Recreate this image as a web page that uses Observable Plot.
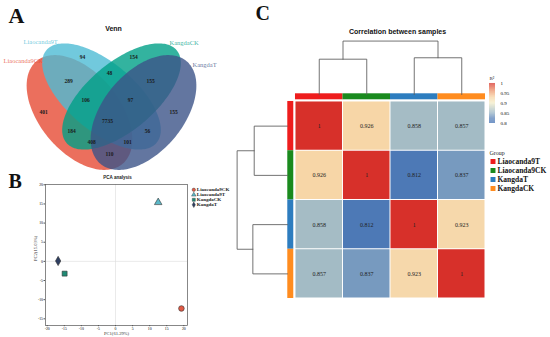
<!DOCTYPE html>
<html><head><meta charset="utf-8">
<script src="https://cdn.jsdelivr.net/npm/d3@7"></script>
<script src="https://cdn.jsdelivr.net/npm/@observablehq/plot@0.6"></script>
<style>
body{margin:0;background:#fff;}
#fig{position:relative;width:550px;height:337px;overflow:hidden;background:#fff;}
#fig svg{overflow:visible;}
</style></head><body><div id="fig"></div>
<script>
// ---------- DATA ----------
// Panel A: Venn
const vennSets = ["Liaocanda9CK", "Liaocanda9T", "KangdaCK", "KangdaT"];
const vennColors = ["#E64B35", "#4DBBD5", "#00A087", "#3C5488"];
const vennCounts = [401, 94, 154, 155, 289, 48, 155, 110, 106, 97, 184, 56, 408, 101, 7735];
// Panel B: PCA
const pcaSamples = ["Liaocanda9CK", "Liaocanda9T", "KangdaCK", "KangdaT"];
const pc1 = [19.3, 12.5, -14.9, -16.8];
const pc2 = [-12.3, 15.4, -3.2, 0.1];
const pcaColors = ["#E05A45", "#5BB8C8", "#1F8A74", "#2E3F62"];
const pcaSymbols = ["circle", "triangle", "square", "diamond"];
const pcaTicksX = [-20, -15, -10, -5, 0, 5, 10, 15, 20];
const pcaTicksY = [-15, -10, -5, 0, 5, 10, 15, 20];
// Panel C: correlation heatmap
const samples = ["Liaocanda9T", "Liaocanda9CK", "KangdaT", "KangdaCK"];
const corr = [
  [1, 0.926, 0.858, 0.857],
  [0.926, 1, 0.812, 0.837],
  [0.858, 0.812, 1, 0.923],
  [0.857, 0.837, 0.923, 1]
];
const groupColors = ["#EE1D1D", "#1A8A1E", "#2D7DBF", "#FF8C1F"];
const merge = [[-1, -2], [-3, -4], [1, 2]];   // hclust-style merges
const mergeHeight = [0.074, 0.077, 0.112];
const legendTicks = [0.8, 0.85, 0.9, 0.95, 1];
const colorStops = [0.8, 0.825, 0.85, 0.9, 0.93, 0.965, 1];
const colorRange = ["#4170B4", "#5A82B9", "#96B3C5", "#F4EDC8", "#F7D2A2", "#EC8A62", "#D7302A"];

// ---------- LAYOUT ----------
const serif = "Liberation Serif, Times New Roman, serif";
const sans = "Liberation Sans, Arial, sans-serif";
const fig = document.getElementById("fig");
function place(svg, left, top) {
  const d = document.createElement("div");
  d.style.cssText = `position:absolute;left:${left}px;top:${top}px;`;
  d.appendChild(svg);
  fig.appendChild(d);
}
const transparent = {background: "transparent", overflow: "visible"};

// Venn geometry (layout, in panel pixels)
const ell = {cx: [79, 101, 121, 143], cy: [112, 96, 96, 112], a: [67, 72, 72, 67], b: [40, 34, 34, 40], ang: [50, 40, -40, -50]};
function ellipsePts(i) {
  const n = 180, th = ell.ang[i] * Math.PI / 180;
  return d3.range(n).map(k => {
    const t = 2 * Math.PI * k / n;
    const ux = ell.a[i] * Math.cos(t), uy = ell.b[i] * Math.sin(t);
    return {x: ell.cx[i] + ux * Math.cos(th) - uy * Math.sin(th), y: ell.cy[i] + ux * Math.sin(th) + uy * Math.cos(th)};
  });
}
const vennCountX = [43, 82, 133, 173, 68, 109, 150, 109, 85, 130, 71, 147, 91, 127, 107];
const vennCountY = [112, 57, 57, 112, 81, 73, 81, 154, 100, 100, 131, 131, 142, 142, 121];
const vennSetX = [3, 23, 169, 192];
const vennSetY = [60, 41, 42, 64];

place(Plot.plot({
  width: 240, height: 175, margin: 0,
  x: {domain: [0, 240], range: [0, 240], axis: null},
  y: {domain: [0, 175], range: [0, 175], axis: null},
  style: {...transparent, fontFamily: serif},
  marks: [
    ...vennSets.map((s, i) => Plot.line(ellipsePts(i), {x: "x", y: "y", curve: "linear-closed", fill: vennColors[i], fillOpacity: 0.8, stroke: "none"})),
    Plot.text(vennCounts.map((c, i) => ({c, i})), {x: d => vennCountX[d.i], y: d => vennCountY[d.i], text: d => String(d.c), fontSize: 5.5, fontWeight: "bold", fill: "#1a1a1a"}),
    ...vennSets.map((s, i) => Plot.text([s], {x: vennSetX[i], y: vennSetY[i], text: d => d, textAnchor: "start", fontSize: 6.5, fill: vennColors[i], fillOpacity: 0.8}))
  ]
}), 0, 0);

// PCA
const pcaData = pcaSamples.map((s, i) => ({sample: s, pc1: pc1[i], pc2: pc2[i]}));
place(Plot.plot({
  width: 192, height: 177, marginLeft: 45, marginRight: 5, marginTop: 24, marginBottom: 12,
  x: {domain: [-20.5, 21.08]},
  y: {domain: [-16.75, 20.08]},
  color: {domain: pcaSamples, range: pcaColors},
  symbol: {domain: pcaSamples, range: pcaSymbols},
  style: {...transparent, fontFamily: serif},
  marks: [
    Plot.ruleX([0], {stroke: "#dcdcdc", strokeWidth: 0.6}),
    Plot.ruleY([0], {stroke: "#dcdcdc", strokeWidth: 0.6}),
    Plot.frame({stroke: "#555", strokeWidth: 0.7}),
    Plot.axisX({ticks: pcaTicksX, tickFormat: d => String(d), tickSize: 1.2, tickPadding: 0.3, fontSize: 3.8, label: null, stroke: "#555"}),
    Plot.axisY({ticks: pcaTicksY, tickFormat: d => String(d), tickSize: 1.5, tickPadding: 1, fontSize: 3.8, label: null, stroke: "#555"}),
    Plot.dot(pcaData, {x: "pc1", y: "pc2", symbol: "sample", fill: "sample", stroke: "#333", strokeWidth: 0.6, r: 2.8})
  ]
}), 0, 160);

// Heatmap
const cells = samples.flatMap((r, i) => samples.map((c, j) => ({row: i, col: j, value: corr[i][j]})));
const colorScale = {type: "linear", domain: colorStops, range: colorRange, interpolate: "rgb"};
place(Plot.plot({
  width: 198, height: 205, margin: 0,
  x: {domain: [-0.168, 4], range: [0, 198], axis: null},
  y: {domain: [-0.162, 4], range: [0, 205], axis: null},
  color: colorScale,
  style: {...transparent, fontFamily: serif},
  marks: [
    Plot.rect(cells, {x1: "col", x2: d => d.col + 1, y1: "row", y2: d => d.row + 1, fill: "value", inset: 0.5}),
    ...samples.map((s, i) => Plot.rect([i], {x1: d => d, x2: d => d + 1, y1: -0.156, y2: -0.034, fill: groupColors[i]})),
    ...samples.map((s, i) => Plot.rect([i], {y1: d => d, y2: d => d + 1, x1: -0.162, x2: -0.036, fill: groupColors[i]})),
    Plot.text(cells, {x: d => d.col + 0.5, y: d => d.row + 0.5, text: d => d.value === 1 ? "1" : d.value.toFixed(3), fontSize: 6, fill: "#222"})
  ]
}), 287, 93);

// Dendrogram links
function dendroLinks() {
  const nodes = [], links = [];
  const node = k => k < 0 ? {p: -k - 1 + 0.5, h: 0} : nodes[k - 1];
  merge.forEach(([a, b], m) => {
    const A = node(a), B = node(b), H = mergeHeight[m];
    [[A.p, A.h], [A.p, H], [B.p, H], [B.p, B.h]].forEach(([p, h]) => links.push({id: m, p, h}));
    nodes.push({p: (A.p + B.p) / 2, h: H});
  });
  return links;
}
const links = dendroLinks();
place(Plot.plot({
  width: 190, height: 56, margin: 0,
  x: {domain: [0, 4], range: [0, 190], axis: null},
  y: {domain: [0, 0.1174], range: [56, 0], axis: null},
  style: transparent,
  marks: [Plot.line(links, {x: "p", y: "h", z: "id", stroke: "#5a5a5a", strokeWidth: 0.85})]
}), 295, 38);
place(Plot.plot({
  width: 57, height: 197, margin: 0,
  x: {domain: [0, 0.1267], range: [57, 0], axis: null},
  y: {domain: [0, 4], range: [0, 197], axis: null},
  style: transparent,
  marks: [Plot.line(links, {x: "h", y: "p", z: "id", stroke: "#5a5a5a", strokeWidth: 0.85})]
}), 230, 101);

// Color legend ramp
const ramp = d3.range(100).map(i => 0.8 + 0.2 * i / 100);
place(Plot.plot({
  width: 30, height: 40, marginLeft: 0, marginRight: 24, marginTop: 0, marginBottom: 0,
  y: {domain: [0.8, 1], range: [40, 0]},
  color: colorScale,
  style: {...transparent, fontFamily: serif},
  marks: [
    Plot.rect(ramp, {y1: d => d, y2: d => d + 0.0021, fill: d => d}),
    Plot.axisY({anchor: "right", ticks: legendTicks, tickFormat: d => String(+d.toFixed(2)), tickSize: 0, tickPadding: 5, fontSize: 5, label: null})
  ]
}), 489, 83);

// Overlay: titles, letters, legends
place(Plot.plot({
  width: 550, height: 337, margin: 0,
  x: {domain: [0, 550], range: [0, 550], axis: null},
  y: {domain: [0, 337], range: [0, 337], axis: null},
  style: {...transparent, fontFamily: serif},
  marks: [
    Plot.text(["A"], {x: 8, y: 15, text: d => d, textAnchor: "start", fontSize: 22, fontWeight: "bold", fill: "#111"}),
    Plot.text(["B"], {x: 8, y: 181.5, text: d => d, textAnchor: "start", fontSize: 20, fontWeight: "bold", fill: "#111"}),
    Plot.text(["C"], {x: 255, y: 13.5, text: d => d, textAnchor: "start", fontSize: 20, fontWeight: "bold", fill: "#111"}),
    Plot.text(["Venn"], {x: 113, y: 28, text: d => d, fontSize: 7, fontWeight: "bold", fontFamily: sans, fill: "#111"}),
    Plot.text(["PCA analysis"], {x: 117, y: 177.3, text: d => d, fontSize: 4.5, fontWeight: "bold", fontFamily: sans, fill: "#222"}),
    Plot.text(["Correlation between samples"], {x: 397, y: 31, text: d => d, fontSize: 7, fontWeight: "bold", fontFamily: sans, fill: "#111"}),
    Plot.text(["PC1(61.29%)"], {x: 116, y: 333.2, text: d => d, fontSize: 4.6, fill: "#333"}),
    Plot.text(["PC2(15.03%)"], {x: 35, y: 248, text: d => d, fontSize: 4.6, rotate: -90, fill: "#333"}),
    Plot.text(["R²"], {x: 489, y: 77.5, text: d => d, textAnchor: "start", fontSize: 5, fill: "#222"}),
    Plot.text(["Group"], {x: 489, y: 153, text: d => d, textAnchor: "start", fontSize: 6, fill: "#222"}),
    ...samples.map((s, i) => Plot.dot([i], {x: 492.5, y: d => 161 + 9 * d, symbol: "square", r: 2.8, fill: groupColors[i]})),
    Plot.text(samples.map((s, i) => ({s, i})), {x: 497, y: d => 161 + 9 * d.i, text: "s", textAnchor: "start", fontSize: 7.5, fontWeight: "bold", fill: "#111"}),
    ...pcaSamples.map((s, i) => Plot.dot([i], {x: 193.3, y: d => 189.3 + 5 * d, symbol: pcaSymbols[i], r: 1.7, fill: pcaColors[i], stroke: "#333", strokeWidth: 0.4})),
    Plot.text(pcaSamples.map((s, i) => ({s, i})), {x: 196.3, y: d => 189.3 + 5 * d.i, text: "s", textAnchor: "start", fontSize: 5, fontWeight: "bold", fill: "#222"})
  ]
}), 0, 0);
</script></body></html>
